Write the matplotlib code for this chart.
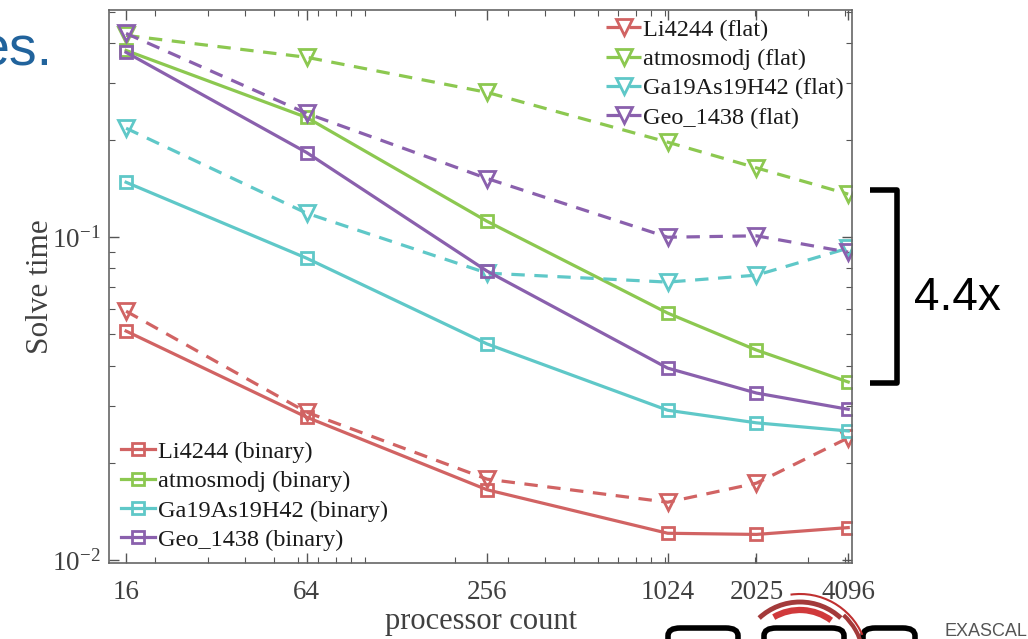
import numpy as np
import matplotlib
matplotlib.use("Agg")
from matplotlib import pyplot as plt
from matplotlib import ticker
from matplotlib.patches import Arc, FancyBboxPatch

# processor counts
procs = [16, 64, 256, 1024, 2025, 4096]
proc_labels = ["16", "64", "256", "1024", "2025", "4096"]

# solve time, binary
li_bin = [0.0512, 0.0277, 0.0165, 0.0121, 0.0120, 0.0126]
atm_bin = [0.379, 0.235, 0.112, 0.0582, 0.0447, 0.0356]
ga_bin = [0.148, 0.0861, 0.0467, 0.0291, 0.0266, 0.0251]
geo_bin = [0.374, 0.183, 0.0785, 0.0393, 0.0329, 0.0293]

# solve time, flat
li_flat = [0.0590, 0.0287, 0.0178, 0.0151, 0.0173, 0.0239]
atm_flat = [0.422, 0.361, 0.281, 0.197, 0.164, 0.136]
ga_flat = [0.2176, 0.1187, 0.0774, 0.0726, 0.0763, 0.0925]
geo_flat = [0.428, 0.242, 0.152, 0.100, 0.101, 0.0899]

names = ["Li4244", "atmosmodj", "Ga19As19H42", "Geo_1438"]
colors = ["#d16363", "#8cc850", "#5fc8c8", "#8a60ad"]

plt.rcParams["font.family"] = ["Liberation Serif", "DejaVu Serif"]
plt.rcParams["mathtext.fontset"] = "stix"

fig = plt.figure(figsize=(10.28, 6.39), dpi=100)
ax = fig.add_axes([0.106, 0.119, 0.723, 0.865])

flat_lines = []
bin_lines = []
for name, c, yb, yf in zip(names, colors, [li_bin, atm_bin, ga_bin, geo_bin],
                           [li_flat, atm_flat, ga_flat, geo_flat]):
    lf, = ax.plot(procs, yf, color=c, lw=2.3, dashes=(4.2, 3.0), marker="v",
                  ms=11.5, mew=2, mfc="none", label=name + " (flat)")
    lb, = ax.plot(procs, yb, color=c, lw=2.3, marker="s",
                  ms=8.5, mew=2, mfc="none", label=name + " (binary)")
    flat_lines.append(lf)
    bin_lines.append(lb)

ax.set_xscale("log")
ax.set_yscale("log")
ax.set_xlim(14.03, 4224)
ax.set_ylim(0.00979, 0.505)

ax.xaxis.set_major_locator(ticker.FixedLocator(procs))
ax.xaxis.set_major_formatter(ticker.FixedFormatter(proc_labels))
ax.xaxis.set_minor_locator(ticker.LogLocator(base=10, subs=np.arange(1, 10), numticks=20))
ax.xaxis.set_minor_formatter(ticker.NullFormatter())
ax.yaxis.set_major_locator(ticker.LogLocator(base=10, numticks=10))
ax.yaxis.set_minor_locator(ticker.LogLocator(base=10, subs=np.arange(2, 10), numticks=20))
ax.yaxis.set_minor_formatter(ticker.NullFormatter())

ax.tick_params(which="both", direction="in", top=True, right=True, colors="#555555",
               labelcolor="#404040", labelsize=19.5)
ax.tick_params(which="major", length=7, width=1)
ax.tick_params(which="minor", length=4, width=0.8)
ax.tick_params(axis="x", pad=12)
ax.tick_params(axis="y", pad=6)
for s in ax.spines.values():
    s.set_color("#666666")
    s.set_linewidth(1.2)

ax.set_xlabel("processor count", fontsize=22, color="#404040", labelpad=2)
ax.set_ylabel("Solve time", fontsize=22.5, color="#404040", labelpad=-2)

leg1 = ax.legend(handles=flat_lines, loc="upper right", frameon=False, fontsize=17.5,
                 handlelength=1.4, handletextpad=0.1, labelspacing=0.3,
                 borderaxespad=0.1, borderpad=0.25)
for t in leg1.get_texts():
    t.set_color("#1a1a1a")
ax.add_artist(leg1)
leg2 = ax.legend(handles=bin_lines, loc="lower left", frameon=False, fontsize=17.5,
                 handlelength=1.4, handletextpad=0.1, labelspacing=0.3,
                 borderaxespad=0.1, borderpad=0.4)
for t in leg2.get_texts():
    t.set_color("#1a1a1a")

# slide decorations
fig.text(53 / 1028, 1 - 52 / 639, "es.", fontsize=40, color="#21639c",
         family="Liberation Sans", ha="right", va="center")
fig.text(914 / 1028, 1 - 298 / 639, "4.4x", fontsize=33, color="black",
         family="Liberation Sans", ha="left", va="center")
bx = [870 / 1028, 897 / 1028, 897 / 1028, 870 / 1028]
by = [1 - 190 / 639, 1 - 190 / 639, 1 - 383 / 639, 1 - 383 / 639]
fig.add_artist(plt.Line2D(bx, by, color="black", lw=4, solid_joinstyle="round",
                          solid_capstyle="butt", transform=fig.transFigure))

# partial logo at bottom right
for x0, w in [(668, 70), (764, 80), (863, 52)]:
    fig.add_artist(FancyBboxPatch((x0 / 1028, 1 - 662 / 639), w / 1028, 34 / 639,
                                  boxstyle="round,pad=0,rounding_size=0.012",
                                  fill=False, ec="black", lw=4, transform=fig.transFigure))
for r, t1, t2, lw, c in [(60, 60, 120, 3.5, "#a33a3a"), (52, 65, 110, 4.5, "#d0393b"),
                         (68, 35, 95, 1.5, "#c03030"), (64, 20, 60, 3, "#a33a3a")]:
    fig.add_artist(Arc((800 / 1028, 1 - 662 / 639), 2 * r / 1028, 2 * r / 639,
                       theta1=t1, theta2=t2, color=c, lw=lw, transform=fig.transFigure))
fig.text(945 / 1028, 1 - 632 / 639, "EXASCALE", fontsize=13, color="#555555",
         family="Liberation Sans", ha="left", va="center")

fig.savefig("out.png", dpi=100)
